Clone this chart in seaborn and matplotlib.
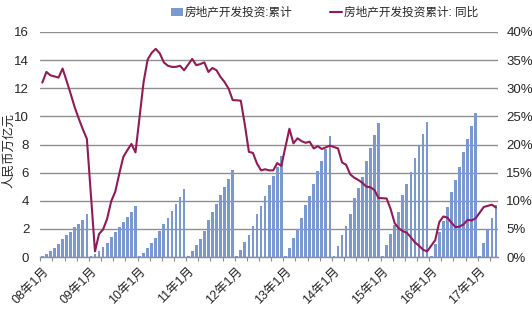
import numpy as np
import pandas as pd
import matplotlib
matplotlib.use("Agg")
import matplotlib.pyplot as plt
from matplotlib.patches import Patch
from matplotlib.lines import Line2D
import seaborn as sns

# ---------------- data ----------------
years = [2008, 2009, 2010, 2011, 2012, 2013, 2014, 2015, 2016, 2017]

# cumulative real-estate development investment, 万亿元 (Jan..Dec)
invest_2008 = [0.10, 0.19, 0.43, 0.67, 0.94, 1.29, 1.53, 1.80, 2.14, 2.34, 2.62, 3.05]
invest_2009 = [0.10, 0.22, 0.46, 0.72, 1.01, 1.41, 1.76, 2.11, 2.49, 2.82, 3.18, 3.62]
invest_2010 = [0.10, 0.28, 0.64, 0.97, 1.36, 1.83, 2.32, 2.80, 3.29, 3.77, 4.24, 4.83]
invest_2011 = [0.10, 0.40, 0.85, 1.30, 1.83, 2.64, 3.19, 3.74, 4.42, 4.98, 5.53, 6.17]
invest_2012 = [0.10, 0.50, 1.07, 1.55, 2.21, 3.06, 3.66, 4.34, 5.11, 5.76, 6.39, 7.18]
invest_2013 = [0.10, 0.66, 1.35, 1.98, 2.76, 3.68, 4.36, 5.19, 6.11, 6.82, 7.66, 8.60]
invest_2014 = [0.10, 0.80, 1.58, 2.21, 3.09, 4.20, 4.93, 5.71, 6.80, 7.76, 8.65, 9.50]
invest_2015 = [0.10, 0.85, 1.66, 2.30, 3.22, 4.38, 5.22, 6.08, 7.04, 7.89, 8.73, 9.60]
invest_2016 = [0.10, 0.90, 1.75, 2.55, 3.55, 4.63, 5.45, 6.42, 7.45, 8.38, 9.30, 10.26]
invest_2017 = [0.10, 0.99, 1.93, 2.77, 3.68]

# year-on-year growth, % (Jan..Dec; None = not reported)
yoy_2008 = [31.0, 32.9, 32.3, 32.1, 31.9, 33.5, 31.3, 29.0, 26.6, 24.6, 22.7, 21.0]
yoy_2009 = [None, 1.0, 4.1, 4.9, 6.8, 9.9, 11.6, 14.8, 17.8, 19.0, 20.1, 18.6]
yoy_2010 = [None, 31.1, 35.1, 36.3, 37.0, 36.2, 34.6, 34.0, 33.8, 33.8, 34.0, 33.2]
yoy_2011 = [None, 35.2, 34.1, 34.3, 34.6, 32.9, 33.6, 33.2, 32.0, 31.1, 29.9, 27.9]
yoy_2012 = [None, 27.8, 23.5, 18.7, 18.5, 16.6, 15.4, 15.6, 15.4, 15.4, 16.7, 16.2]
yoy_2013 = [None, 22.8, 20.2, 21.1, 20.6, 20.3, 20.5, 19.3, 19.7, 19.2, 19.5, 19.8]
yoy_2014 = [None, 19.3, 16.8, 16.4, 14.7, 14.1, 13.7, 13.2, 12.5, 12.4, 11.9, 10.5]
yoy_2015 = [None, 10.4, 8.5, 6.0, 5.1, 4.6, 4.3, 3.5, 2.6, 2.0, 1.3, 1.0]
yoy_2016 = [None, 3.0, 6.2, 7.2, 7.0, 6.1, 5.3, 5.4, 5.8, 6.6, 6.5, 6.9]
yoy_2017 = [None, 8.9, 9.1, 9.3, 8.8]

bar_label = "房地产开发投资:累计"
line_label = "房地产开发投资累计: 同比"
y_label = "人民币万亿元"

invest_years = [invest_2008, invest_2009, invest_2010, invest_2011, invest_2012,
                invest_2013, invest_2014, invest_2015, invest_2016, invest_2017]
yoy_years = [yoy_2008, yoy_2009, yoy_2010, yoy_2011, yoy_2012,
             yoy_2013, yoy_2014, yoy_2015, yoy_2016, yoy_2017]

rows = []
for y, inv, yy in zip(years, invest_years, yoy_years):
    for m, (v, g) in enumerate(zip(inv, yy), start=1):
        rows.append({"year": y, "month": m, "invest": v,
                     "yoy": np.nan if g is None else g,
                     "label": f"{y % 100:02d}年{m}月"})
df = pd.DataFrame(rows)
df["pos"] = np.arange(len(df))
n = len(df)

# ---------------- style ----------------
sns.set_theme(style="white")
plt.rcParams["font.family"] = ["Liberation Sans", "Noto Sans CJK SC"]
plt.rcParams["axes.unicode_minus"] = False

bar_color = "#7A99D1"
line_color = "#931A55"
grid_color = "#8F8F8F"

fig = plt.figure(figsize=(5.32, 3.10), dpi=100)
left, right, top, bottom = 40.3 / 532, 498 / 532, 1 - 32 / 310, 1 - 257 / 310
ax = fig.add_axes([left, bottom, right - left, top - bottom])

sns.barplot(data=df, x="pos", y="invest", color=bar_color, saturation=1,
            width=0.68, native_scale=True, ax=ax, errorbar=None)
for p in ax.patches:
    p.set_antialiased(False)
    p.set_linewidth(0)
ax.set_xlim(-0.5, n - 0.5)
ax.set_ylim(0, 16)
ax.set_yticks(range(0, 17, 2))
ax.set_yticklabels([str(v) for v in range(0, 17, 2)], fontsize=9.5)
ax.set_axisbelow(True)
ax.yaxis.grid(True, color=grid_color, lw=1.0)
ax.xaxis.grid(False)
ax.set_xlabel("")
ax.set_ylabel("")
for s in ["left", "right", "top"]:
    ax.spines[s].set_visible(False)
ax.spines["bottom"].set_color("#8F8F8F")
ax.spines["bottom"].set_linewidth(1.0)

jan = df[df["month"] == 1]
ax.set_xticks(jan["pos"].values)
ax.set_xticklabels(jan["label"].values, rotation=45, ha="right",
                   rotation_mode="anchor", fontsize=9)
ax.set_xticks(np.arange(-0.5, n, 3), minor=True)
ax.tick_params(axis="x", which="major", length=0, pad=6)
ax.tick_params(axis="x", which="minor", length=3, width=0.8, color="#8F8F8F",
               direction="out", bottom=True)
ax.tick_params(axis="y", length=0, pad=8)

ax2 = ax.twinx()
line_df = df.dropna(subset=["yoy"])
sns.lineplot(data=line_df, x="pos", y="yoy", color=line_color, lw=1.5,
             sort=False, estimator=None, ax=ax2)
ax2.set_ylim(0, 40)
ax2.set_yticks(range(0, 41, 5))
ax2.set_yticklabels([f"{v}%" for v in range(0, 41, 5)], fontsize=9.5)
ax2.tick_params(axis="y", length=0, pad=6)
ax2.set_ylabel("")
ax2.set_xlabel("")
for s in ["left", "right", "top", "bottom"]:
    ax2.spines[s].set_visible(False)
ax2.set_xlim(-0.5, n - 0.5)

fig.text(0.018, 1 - 151 / 310, y_label, rotation=90, ha="center", va="center",
         fontsize=9)

handles = [Patch(facecolor=bar_color, edgecolor="none"),
           Line2D([0], [0], color=line_color, lw=1.5)]
fig.legend(handles, [bar_label, line_label], loc="center",
           bbox_to_anchor=(0.61, 0.958), ncol=2, frameon=False, fontsize=8.4,
           handlelength=1.0, handleheight=0.8, handletextpad=0.2,
           columnspacing=3.2)

fig.savefig("out.png", dpi=100)
